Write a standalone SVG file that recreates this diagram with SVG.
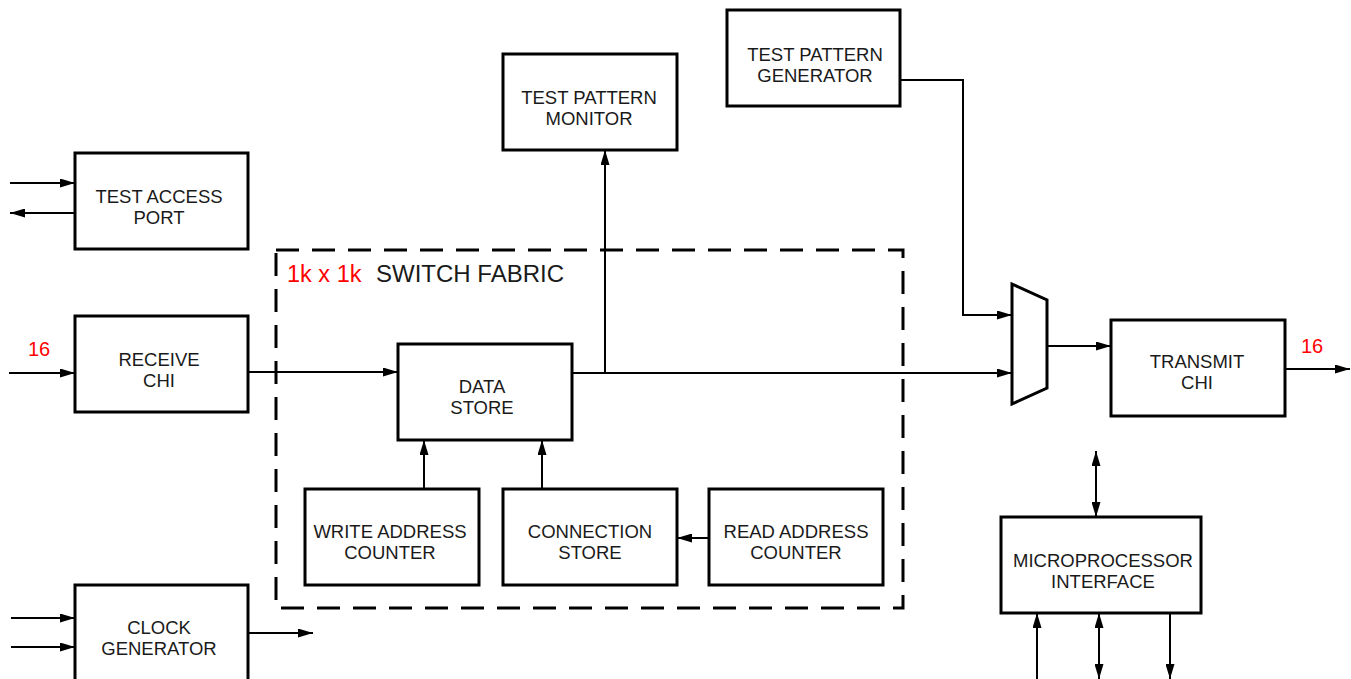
<svg xmlns="http://www.w3.org/2000/svg" width="1351" height="679" viewBox="0 0 1351 679">
<style>
.box{fill:#fff;stroke:#000;stroke-width:3}
.lbl{font-family:"Liberation Sans",Arial,sans-serif;font-size:18.5px;fill:#1a1a1a;text-anchor:middle}
.red{font-family:"Liberation Sans",Arial,sans-serif;font-size:20px;fill:#ff0000}
.title{font-family:"Liberation Sans",Arial,sans-serif;font-size:24px;fill:#1a1a1a}
.ln{fill:none;stroke:#000;stroke-width:2}
.dash{fill:none;stroke:#000;stroke-width:3;stroke-dasharray:23 13}
</style>
<defs>
<marker id="ah" markerUnits="userSpaceOnUse" markerWidth="15" markerHeight="9" refX="15" refY="4.5" orient="auto">
<path d="M0,0 L15,4.5 L0,9 z" fill="#000"/>
</marker>
<marker id="as" markerUnits="userSpaceOnUse" markerWidth="15" markerHeight="9" refX="0" refY="4.5" orient="auto">
<path d="M15,0 L0,4.5 L15,9 z" fill="#000"/>
</marker>
</defs>

<g id="switch-fabric">
<rect class="dash" x="276" y="250" width="627" height="358"/>
<text class="red" x="287" y="282" style="font-size:23.5px">1k x 1k</text>
<text class="title" x="376" y="282">SWITCH FABRIC</text>
</g>

<g id="connectors">
<line class="ln" x1="10" y1="183" x2="75" y2="183" marker-end="url(#ah)"/>
<line class="ln" x1="75" y1="213" x2="10" y2="213" marker-end="url(#ah)"/>
<line class="ln" x1="9" y1="373" x2="75" y2="373" marker-end="url(#ah)"/>
<line class="ln" x1="248" y1="372" x2="398" y2="372" marker-end="url(#ah)"/>
<line class="ln" x1="572" y1="373" x2="1012" y2="373" marker-end="url(#ah)"/>
<line class="ln" x1="605" y1="373" x2="605" y2="150" marker-end="url(#ah)"/>
<path class="ln" d="M900,80 H963 V315 H1012" marker-end="url(#ah)"/>
<line class="ln" x1="1047" y1="346" x2="1111" y2="346" marker-end="url(#ah)"/>
<line class="ln" x1="1285" y1="369" x2="1350" y2="369" marker-end="url(#ah)"/>
<line class="ln" x1="424" y1="489" x2="424" y2="440" marker-end="url(#ah)"/>
<line class="ln" x1="542" y1="489" x2="542" y2="440" marker-end="url(#ah)"/>
<line class="ln" x1="709" y1="538" x2="677" y2="538" marker-end="url(#ah)"/>
<line class="ln" x1="11" y1="618" x2="75" y2="618" marker-end="url(#ah)"/>
<line class="ln" x1="11" y1="647" x2="75" y2="647" marker-end="url(#ah)"/>
<line class="ln" x1="248" y1="633" x2="313" y2="633" marker-end="url(#ah)"/>
<line class="ln" x1="1096" y1="451" x2="1096" y2="517" marker-start="url(#as)" marker-end="url(#ah)"/>
<line class="ln" x1="1037" y1="679" x2="1037" y2="613" marker-end="url(#ah)"/>
<line class="ln" x1="1099" y1="613" x2="1099" y2="679" marker-start="url(#as)" marker-end="url(#ah)"/>
<line class="ln" x1="1170" y1="613" x2="1170" y2="679" marker-end="url(#ah)"/>
<text class="red" x="28" y="356">16</text>
<text class="red" x="1301" y="353">16</text>
</g>

<g id="test-access-port">
<rect class="box" x="75" y="153" width="173" height="96"/>
<text class="lbl" x="159" y="203">TEST ACCESS</text>
<text class="lbl" x="159" y="224">PORT</text>
</g>

<g id="receive-chi">
<rect class="box" x="75" y="316" width="173" height="96"/>
<text class="lbl" x="159" y="366">RECEIVE</text>
<text class="lbl" x="159" y="387">CHI</text>
</g>

<g id="clock-generator">
<rect class="box" x="75" y="585" width="173" height="97"/>
<text class="lbl" x="159" y="634">CLOCK</text>
<text class="lbl" x="159" y="655">GENERATOR</text>
</g>

<g id="data-store">
<rect class="box" x="398" y="344" width="174" height="96"/>
<text class="lbl" x="482" y="393">DATA</text>
<text class="lbl" x="482" y="414">STORE</text>
</g>

<g id="test-pattern-monitor">
<rect class="box" x="503" y="54" width="174" height="96"/>
<text class="lbl" x="589" y="104">TEST PATTERN</text>
<text class="lbl" x="589" y="125">MONITOR</text>
</g>

<g id="test-pattern-generator">
<rect class="box" x="727" y="10" width="173" height="96"/>
<text class="lbl" x="815" y="61">TEST PATTERN</text>
<text class="lbl" x="815" y="82">GENERATOR</text>
</g>

<g id="write-address-counter">
<rect class="box" x="305" y="489" width="174" height="96"/>
<text class="lbl" x="390" y="538">WRITE ADDRESS</text>
<text class="lbl" x="390" y="559">COUNTER</text>
</g>

<g id="connection-store">
<rect class="box" x="503" y="489" width="174" height="96"/>
<text class="lbl" x="590" y="538">CONNECTION</text>
<text class="lbl" x="590" y="559">STORE</text>
</g>

<g id="read-address-counter">
<rect class="box" x="709" y="489" width="174" height="96"/>
<text class="lbl" x="796" y="538">READ ADDRESS</text>
<text class="lbl" x="796" y="559">COUNTER</text>
</g>

<g id="mux">
<polygon class="box" points="1012,284 1047,300 1047,388 1012,404"/>
</g>

<g id="transmit-chi">
<rect class="box" x="1111" y="320" width="174" height="96"/>
<text class="lbl" x="1197" y="368">TRANSMIT</text>
<text class="lbl" x="1197" y="389">CHI</text>
</g>

<g id="microprocessor-interface">
<rect class="box" x="1001" y="517" width="200" height="96"/>
<text class="lbl" x="1103" y="567">MICROPROCESSOR</text>
<text class="lbl" x="1103" y="588">INTERFACE</text>
</g>
</svg>
